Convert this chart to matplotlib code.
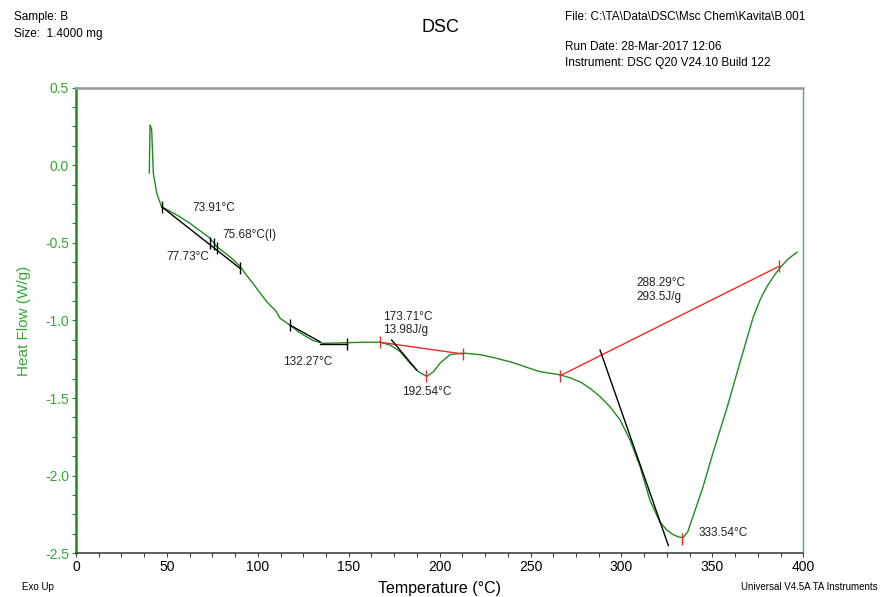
"""DSC thermogram of sample B with the Universal Analysis peak/onset annotations."""
import numpy as np
import matplotlib
matplotlib.use("Agg")
import matplotlib.pyplot as plt
from matplotlib.ticker import MultipleLocator, FormatStrFormatter

plt.rcParams["font.family"] = ["Liberation Sans", "DejaVu Sans"]

GREEN = "#1e8c1e"
LIGHT_GREEN = "#33a833"
RED = "#f02828"

# heat flow trace (W/g) against temperature (degC)
temp = [40.3, 40.7, 41.6, 42.5, 44.4, 46.2, 47.1, 55.4, 62.7, 69.1, 73.7, 77.4,
        84.7, 90.2, 93.0, 98.5, 105.0, 110.0, 112.2, 117.7, 123.2, 130.5, 136.0,
        148.9, 158.0, 167.2, 172.7, 178.2, 183.7, 188.3, 192.9, 196.6, 200.2,
        205.7, 213.0, 222.2, 230.0, 240.0, 250.0, 255.2, 261.0, 266.2, 272.0,
        278.0, 283.0, 288.2, 294.0, 299.2, 304.7, 310.2, 315.7, 321.2, 325.0,
        328.4, 331.5, 333.9, 336.5, 339.4, 344.9, 350.4, 358.1, 365.2, 372.4,
        376.5, 380.1, 384.0, 387.2, 392.0, 396.6]
heat_flow = [-0.05, 0.26, 0.23, -0.05, -0.18, -0.24, -0.267, -0.32, -0.374, -0.43,
             -0.47, -0.524, -0.59, -0.65, -0.696, -0.78, -0.88, -0.94, -0.985, -1.03,
             -1.08, -1.13, -1.147, -1.143, -1.14, -1.14, -1.158, -1.20, -1.275, -1.33,
             -1.36, -1.33, -1.275, -1.22, -1.21, -1.22, -1.24, -1.27, -1.31, -1.33,
             -1.34, -1.35, -1.37, -1.40, -1.44, -1.49, -1.56, -1.64, -1.77, -1.94,
             -2.16, -2.30, -2.35, -2.38, -2.395, -2.40, -2.36, -2.26, -2.07, -1.85,
             -1.56, -1.27, -0.98, -0.86, -0.78, -0.71, -0.66, -0.60, -0.56]

# analysis constructions: (T, HF) end points
glass_tangent = [(47.1, -0.267), (90.2, -0.664)]
glass_marks = [(47.1, -0.267), (73.7, -0.50), (75.7, -0.51), (77.7, -0.53), (90.2, -0.664)]
step_tangent = [(117.7, -1.03), (134.2, -1.137)]
step_flat = [(134.0, -1.15), (148.9, -1.15)]
step_marks = [(117.7, -1.03), (148.9, -1.15)]
peak1_base = [(167.2, -1.14), (213.0, -1.216)]
peak1_tangent = [(173.6, -1.126), (187.4, -1.32)]
peak1_min = (192.5, -1.36)
peak2_base = [(266.2, -1.356), (386.8, -0.65)]
peak2_tangent = [(288.2, -1.19), (325.8, -2.45)]
peak2_min = (333.5, -2.41)

# result labels: (T, HF, text)
labels = [
    (63.8, -0.275, "73.91°C"),
    (80.3, -0.45, "75.68°C(I)"),
    (49.5, -0.59, "77.73°C"),
    (113.9, -1.27, "132.27°C"),
    (168.9, -0.977, "173.71°C"),
    (168.9, -1.06, "13.98J/g"),
    (179.3, -1.46, "192.54°C"),
    (308.4, -0.76, "288.29°C"),
    (308.4, -0.85, "293.5J/g"),
    (342.3, -2.37, "333.54°C"),
]

fig = plt.figure(figsize=(8.81, 5.97), dpi=100)
ax = fig.add_axes([0.0863, 0.0732, 0.8255, 0.7799])

ax.plot(temp, heat_flow, color=GREEN, lw=1.0, zorder=3)


def seg(points, color, lw=1.0, z=4):
    xs, ys = zip(*points)
    ax.plot(xs, ys, color=color, lw=lw, zorder=z)


seg(glass_tangent, "black")
seg(step_tangent, "black")
seg(step_flat, "black")
seg(peak1_base, RED)
seg(peak1_tangent, "black")
seg(peak2_base, RED)
seg(peak2_tangent, "black")

for (x, y) in glass_marks + step_marks:
    ax.plot(x, y, marker="|", ms=9, mew=1.0, color="black", zorder=5)
for (x, y) in [peak1_base[0], peak1_base[1], peak1_min,
               peak2_base[0], peak2_base[1], peak2_min]:
    ax.plot(x, y, marker="|", ms=9, mew=1.0, color=RED, zorder=5)

for x, y, s in labels:
    ax.text(x, y, s, fontsize=8.5, va="center", ha="left", color="#222222")

ax.set_xlim(0, 400)
ax.set_ylim(-2.5, 0.5)
ax.xaxis.set_major_locator(MultipleLocator(50))
ax.xaxis.set_minor_locator(MultipleLocator(12.5))
ax.yaxis.set_major_locator(MultipleLocator(0.5))
ax.yaxis.set_minor_locator(MultipleLocator(0.125))
ax.yaxis.set_major_formatter(FormatStrFormatter("%.1f"))
ax.tick_params(axis="x", which="both", direction="out", length=3, width=0.8,
               color="#444444", labelsize=10, pad=2)
ax.tick_params(axis="y", which="both", direction="out", length=3, width=0.8,
               color=GREEN, labelsize=10, labelcolor=LIGHT_GREEN, pad=2)

ax.spines["left"].set_color(GREEN)
ax.spines["left"].set_linewidth(1.8)
ax.spines["right"].set_color("#5aaa5a")
ax.spines["right"].set_linewidth(1.0)
ax.spines["top"].set_color("#999999")
ax.spines["top"].set_linewidth(1.8)
ax.spines["bottom"].set_color("#444444")
ax.spines["bottom"].set_linewidth(1.2)

ax.set_ylabel("Heat Flow (W/g)", color=LIGHT_GREEN, fontsize=11, labelpad=10)

# header block
fig.text(14 / 881, 1 - 17 / 597, "Sample: B", fontsize=8.5, va="center")
fig.text(14 / 881, 1 - 34 / 597, "Size:  1.4000 mg", fontsize=8.5, va="center")
fig.text(440 / 881, 1 - 27 / 597, "DSC", fontsize=13, va="center", ha="center")
fig.text(565 / 881, 1 - 17 / 597, "File: C:\\TA\\Data\\DSC\\Msc Chem\\Kavita\\B.001",
         fontsize=8.5, va="center")
fig.text(565 / 881, 1 - 47 / 597, "Run Date: 28-Mar-2017 12:06", fontsize=8.5, va="center")
fig.text(565 / 881, 1 - 63 / 597, "Instrument: DSC Q20 V24.10 Build 122", fontsize=8.5,
         va="center")

# footer
fig.text(440 / 881, 1 - 589 / 597, "Temperature (°C)", fontsize=11.5, va="center",
         ha="center")
fig.text(22 / 881, 1 - 587 / 597, "Exo Up", fontsize=7, va="center")
fig.text(878 / 881, 1 - 587 / 597, "Universal V4.5A TA Instruments", fontsize=7,
         va="center", ha="right")

fig.savefig("out.png", dpi=100)
